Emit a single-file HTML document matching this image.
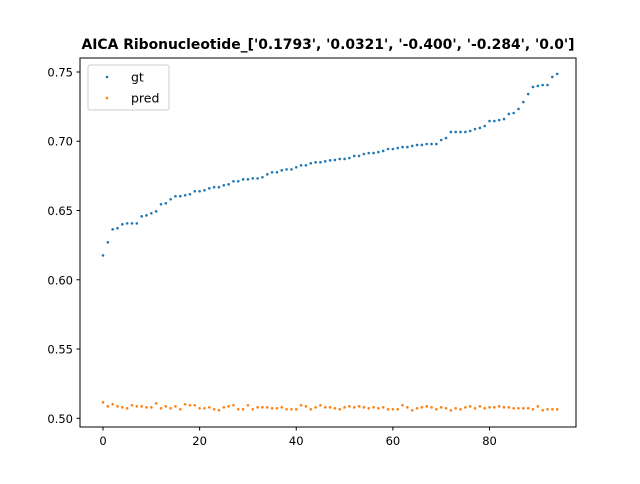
<!DOCTYPE html>
<html><head><meta charset="utf-8"><style>
body{margin:0;background:#fff;font-family:"DejaVu Sans","Liberation Sans",sans-serif}
svg text{font-family:"DejaVu Sans","Liberation Sans",sans-serif}
</style></head><body>
<svg id="chart" width="640" height="480" xmlns="http://www.w3.org/2000/svg">
<rect width="640" height="480" fill="#fff"/>
<text x="328" y="49" text-anchor="middle" font-size="13.9" font-weight="bold">AICA Ribonucleotide_['0.1793', '0.0321', '-0.400', '-0.284', '0.0']</text>
<g id="marks"></g>
<g id="axes"></g>
<g>
<rect x="88" y="65" width="81" height="45" rx="2" fill="#fff" stroke="#ccc"/>
<circle cx="107" cy="77" r="1.3" fill="#1f77b4"/>
<text x="131" y="81.5" font-size="12.5">gt</text>
<circle cx="107" cy="98" r="1.3" fill="#ff7f0e"/>
<text x="131" y="102.5" font-size="12.5">pred</text>
</g>
</svg>
<script>
const gtValues=[0.6176,0.627,0.6364,0.6372,0.640,0.6407,0.6407,0.6407,0.6458,0.6465,0.648,0.6494,0.6545,0.6552,0.6581,0.6603,0.6603,0.661,0.6617,0.6639,0.6639,0.6646,0.666,0.6668,0.6668,0.6682,0.6689,0.6711,0.6711,0.6725,0.6725,0.6732,0.6732,0.674,0.6761,0.6776,0.6776,0.679,0.6797,0.6797,0.6812,0.6826,0.6826,0.6841,0.6848,0.6848,0.6855,0.6862,0.6865,0.6872,0.6872,0.6879,0.6894,0.6894,0.6908,0.6915,0.6915,0.6922,0.693,0.6944,0.6944,0.6951,0.6958,0.6958,0.6966,0.6973,0.6973,0.698,0.698,0.698,0.7009,0.7023,0.7067,0.7067,0.7067,0.7067,0.7074,0.7088,0.7096,0.711,0.7146,0.7146,0.7153,0.716,0.7197,0.7204,0.7233,0.7283,0.7341,0.7392,0.7399,0.7406,0.7406,0.7464,0.7486];
const predValues=[0.5115,0.5086,0.5101,0.5086,0.5079,0.5072,0.5094,0.5086,0.5086,0.5079,0.5079,0.5108,0.5072,0.5086,0.5072,0.5086,0.5065,0.5101,0.5094,0.5094,0.5072,0.5072,0.5079,0.5065,0.5058,0.5079,0.5086,0.5094,0.5065,0.5065,0.5094,0.5065,0.5079,0.5079,0.5079,0.5072,0.5072,0.5079,0.5065,0.5065,0.5065,0.5094,0.5086,0.5065,0.5079,0.5094,0.5079,0.5079,0.5072,0.5065,0.5079,0.5086,0.5079,0.5086,0.5079,0.5072,0.5079,0.5072,0.5079,0.5065,0.5065,0.5065,0.5094,0.5079,0.5058,0.5072,0.5079,0.5086,0.5079,0.5065,0.5079,0.5072,0.5058,0.5072,0.5065,0.5079,0.5086,0.5072,0.5086,0.5072,0.5079,0.5079,0.5086,0.5079,0.5079,0.5072,0.5072,0.5072,0.5072,0.5065,0.5086,0.5058,0.5065,0.5065,0.5065];
const xTicks=[0,20,40,60,80];
const yTicks=[0.50,0.55,0.60,0.65,0.70,0.75];
const L=80,R=576,T=58,B=427;
const xMin=-4.76,xMax=97.9,yMin=0.4937,yMax=0.7601;
const xs=v=>L+(v-xMin)/(xMax-xMin)*(R-L);
const ys=v=>B-(v-yMin)/(yMax-yMin)*(B-T);
const NS="http://www.w3.org/2000/svg";
const marks=document.getElementById('marks'),axes=document.getElementById('axes');
function mk(tag,at,parent){const e=document.createElementNS(NS,tag);for(const k in at)e.setAttribute(k,at[k]);parent.appendChild(e);return e;}
gtValues.forEach((v,i)=>{const c=mk('circle',{cx:xs(i),cy:ys(v),r:1.3,fill:'#1f77b4'},marks);

});
predValues.forEach((v,i)=>{const c=mk('circle',{cx:xs(i),cy:ys(v),r:1.3,fill:'#ff7f0e'},marks);

});
const frame=mk('rect',{x:L,y:T,width:R-L,height:B-T,fill:'none',stroke:'#000','stroke-width':1},axes);


xTicks.forEach(t=>{const x=xs(t);mk('line',{x1:x,x2:x,y1:B,y2:B+3.5,stroke:'#000'},axes);
const tx=mk('text',{x:x,y:B+18,'text-anchor':'middle','font-size':11.5},axes);tx.textContent=t;

});
yTicks.forEach(t=>{const y=ys(t);mk('line',{x1:L-3.5,x2:L,y1:y,y2:y,stroke:'#000'},axes);
const tx=mk('text',{x:L-7,y:y+4.5,'text-anchor':'end','font-size':11.5},axes);tx.textContent=t.toFixed(2);

});
</script>
</body></html>
